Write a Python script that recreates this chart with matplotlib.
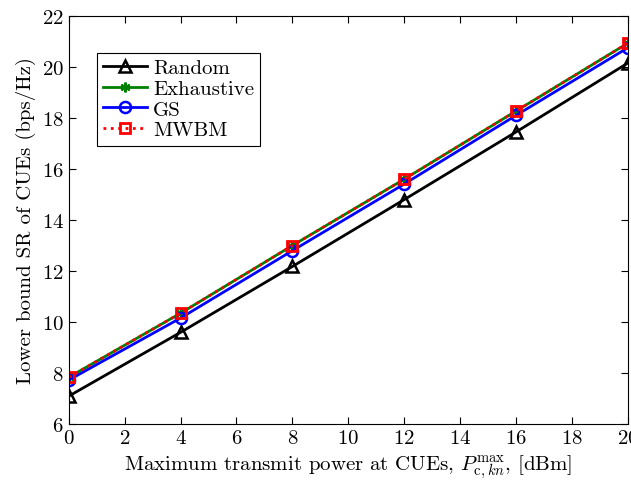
import numpy as np
from matplotlib import pyplot as plt

plt.rcParams['font.family'] = 'serif'
plt.rcParams['font.serif'] = ['cmr10']
plt.rcParams['mathtext.fontset'] = 'cm'
plt.rcParams['axes.formatter.use_mathtext'] = True

# transmit power (dBm) and lower-bound sum rate (bps/Hz)
p_max = [0, 4, 8, 12, 16, 20]
sr_random = [7.1, 9.6, 12.18, 14.8, 17.45, 20.15]
sr_exhaustive = [7.84, 10.35, 13.0, 15.6, 18.27, 20.93]
sr_gs = [7.73, 10.16, 12.8, 15.41, 18.1, 20.75]
sr_mwbm = [7.84, 10.35, 13.0, 15.6, 18.27, 20.93]

fig = plt.figure(figsize=(6.31, 4.81), dpi=100)
ax = fig.add_axes([0.109, 0.116, 0.886, 0.849])

ax.plot(p_max, sr_random, 'k-', marker='^', ms=8, mfc='none', mew=1.8, lw=2, label='Random')
ax.plot(p_max, sr_exhaustive, '-', color='green', marker=(6, 2, 0), ms=7, mew=1.8, lw=2, label='Exhaustive')
ax.plot(p_max, sr_gs, 'b-', marker='o', ms=8, mfc='none', mew=1.8, lw=2, label='GS')
ax.plot(p_max, sr_mwbm, 'r:', marker='s', ms=7, mfc='none', mew=2, lw=2, label='MWBM')

ax.set_xlim(0, 20)
ax.set_ylim(6, 22)
ax.set_xticks(np.arange(0, 21, 2))
ax.set_yticks(np.arange(6, 23, 2))
ax.tick_params(direction='in', top=True, right=True, labelsize=15, length=5)
ax.set_xlabel(r'Maximum transmit power at CUEs, $P_{\mathrm{c},kn}^{\max}$, [dBm]', fontsize=15)
ax.set_ylabel('Lower bound SR of CUEs (bps/Hz)', fontsize=15)

leg = ax.legend(loc='upper left', bbox_to_anchor=(0.05, 0.91), borderaxespad=0, fontsize=15,
                fancybox=False, edgecolor='k', framealpha=1, handlelength=2.1, borderpad=0.3,
                labelspacing=0.1, handletextpad=0.3)
leg.get_frame().set_linewidth(0.8)

fig.savefig('out.png', dpi=100)
